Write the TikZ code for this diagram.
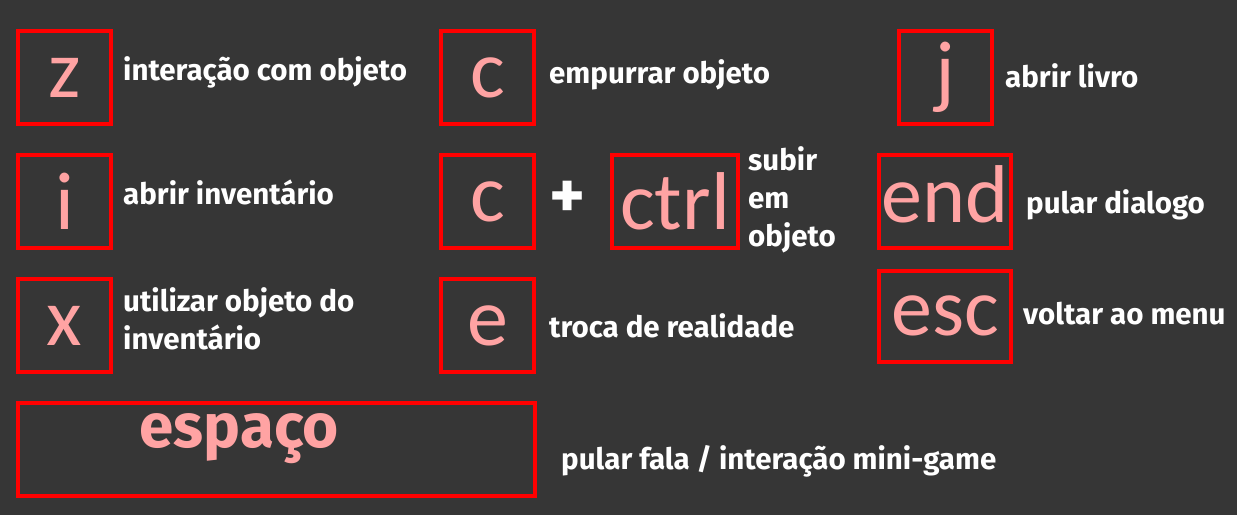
\documentclass[tikz,border=0pt]{standalone}
\usepackage{fontspec}
\usetikzlibrary{positioning}
\newfontfamily\keyfont{Carlito}
\newfontfamily\labelfont{Fira Sans}
\definecolor{bgdark}{HTML}{363636}
\definecolor{keyred}{HTML}{FF0000}
\definecolor{keypink}{HTML}{FFA3A3}

\begin{document}
\begin{tikzpicture}[x=1pt, y=-1pt,
	keybox/.style={draw=keyred, line width=4pt, minimum width=93pt, minimum height=93pt, inner sep=0pt, text=keypink, font=\keyfont\fontsize{82}{82}\selectfont},
	lbl/.style={inner sep=0pt, text=white, align=left, font=\labelfont\bfseries\fontsize{29.5}{38}\selectfont}]
			%%%%% START %%%%%
			
			\fill[bgdark] (0, 0) rectangle (1237, 515);
			
			\node[keybox] (z) at (64.5, 77.5) {z};
			\node[lbl, right=10pt of z, yshift=5pt] (zlbl) {interação com objeto};
			
			\node[keybox] (i) at (64.5, 201.5) {i};
			\node[lbl, right=10pt of i, yshift=9pt] (ilbl) {abrir inventário};
			
			\node[keybox] (x) at (64.5, 325.5) {x};
			\node[lbl, right=10pt of x, yshift=7pt] (xlbl) {utilizar objeto do\\inventário};
			
			\node[keybox] (cpush) at (487.5, 77.5) {c};
			\node[lbl, right=13pt of cpush, yshift=3pt] (cpushlbl) {empurrar objeto};
			
			\node[keybox] (cclimb) at (487.5, 201.5) {c};
			\node[lbl, font=\labelfont\bfseries\fontsize{68}{68}\selectfont] (plus) at (568, 200) {+};
			\node[keybox, minimum width=126pt] (ctrl) at (675, 201.5) {ctrl};
			\node[lbl, right=8pt of ctrl, yshift=2pt] (ctrllbl) {subir\\em\\objeto};
			
			\node[keybox] (e) at (487.5, 325.5) {e};
			\node[lbl, right=13pt of e] (elbl) {troca de realidade};
			
			\node[keybox] (j) at (945.5, 77.5) {j};
			\node[lbl, right=11pt of j, yshift=2pt] (jlbl) {abrir livro};
			
			\node[keybox, minimum width=132pt] (end) at (945, 201.5) {end\rule[-14pt]{0pt}{1pt}};
			\node[lbl, right=13pt of end, yshift=-3pt] (endlbl) {pular dialogo};
			
			\node[keybox, minimum width=132pt, minimum height=91pt] (esc) at (945, 316) {esc};
			\node[lbl, right=10pt of esc, yshift=2pt] (esclbl) {voltar ao menu};
			
			\node[keybox, minimum width=517pt] (space) at (276.5, 449.5) {};
			\node[text=keypink, inner sep=0pt, font=\labelfont\bfseries\fontsize{62}{62}\selectfont] (spacetxt) at (239, 439) {espaço};
			\node[lbl, right=24pt of space, yshift=-12pt] (spacelbl) {pular fala / interação mini-game};
			
			%%%%% END %%%%%
		\end{tikzpicture}
\end{document}
